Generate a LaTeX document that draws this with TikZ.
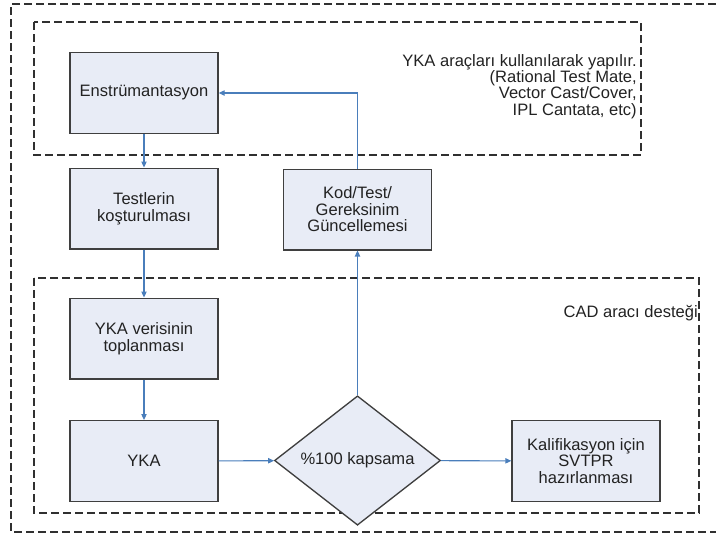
\documentclass[tikz,border=0pt]{standalone}
\usepackage{fontspec}
\setmainfont{Liberation Sans}
\usetikzlibrary{arrows.meta,shapes.geometric}
\definecolor{boxfill}{HTML}{E8ECF6}
\definecolor{boxline}{HTML}{3F3F3F}
\definecolor{arrowblue}{HTML}{4A7EBB}
\definecolor{dashcol}{HTML}{303030}
\definecolor{txt}{HTML}{222222}
\begin{document}
\begin{tikzpicture}[x=0.75pt,y=-0.75pt,
  procbox/.style={draw=boxline,line width=1pt,fill=boxfill,minimum width=111pt,minimum height=60.5pt,inner sep=0pt,align=center,text=txt,font=\fontsize{12.4}{12.4}\selectfont},
  decbox/.style={draw=boxline,line width=1pt,fill=boxfill,diamond,minimum width=124.5pt,minimum height=69pt,inner sep=0pt,text=txt,font=\fontsize{12.4}{12.4}\selectfont},
  flow/.style={draw=arrowblue,line width=0.8pt,-{Triangle[length=4.5pt,width=4pt]}},
  region/.style={draw=dashcol,line width=0.9pt,dash pattern=on 6pt off 3pt},
  note/.style={align=right,text=txt,inner sep=0pt,font=\fontsize{12.4}{12.2}\selectfont}]
\useasboundingbox (0,0) rectangle (716,537);
% outer region (right side outside the picture)
\draw[region] (716,4) -- (11,4) -- (11,532) -- (716,532);
% top region
\draw[region] (34,22) rectangle (641,155);
% CAD region
\draw[region] (34,278) rectangle (699,513);
\node[note,anchor=north east] (toptxt) at (637,54) {YKA araçları kullanılarak yapılır.\\(Rational Test Mate,\\Vector Cast/Cover,\\IPL Cantata, etc)};
\node[note,anchor=east] (cadtxt) at (698,313) {CAD aracı desteği};
% boxes
\node[procbox] (enst) at (144,93) {Enstrümantasyon};
\node[procbox] (test) at (144,208.5) {Testlerin\\koşturulması};
\node[procbox] (kod) at (357.5,209.5) {Kod/Test/\\Gereksinim\\Güncellemesi};
\node[procbox] (veri) at (144,338.5) {YKA verisinin\\toplanması};
\node[procbox] (yka) at (144,461) {YKA};
\node[decbox] (kap) at (357.5,460.5) {\%100 kapsama};
\node[procbox] (kal) at (586,461) {Kalifikasyon için\\SVTPR\\hazırlanması};
% connectors
\coordinate (bend) at (kod.north |- enst.east);
\draw[flow] (enst) -- (test);
\draw[flow] (test) -- (veri);
\draw[flow] (veri) -- (yka);
\draw[flow] (yka) -- (kap);
\draw[flow] (kap) -- (kal);
\draw[flow] (kap) -- (kod);
\draw[flow] (kod.north) -- (bend) -- (enst.east);
\end{tikzpicture}
\end{document}
